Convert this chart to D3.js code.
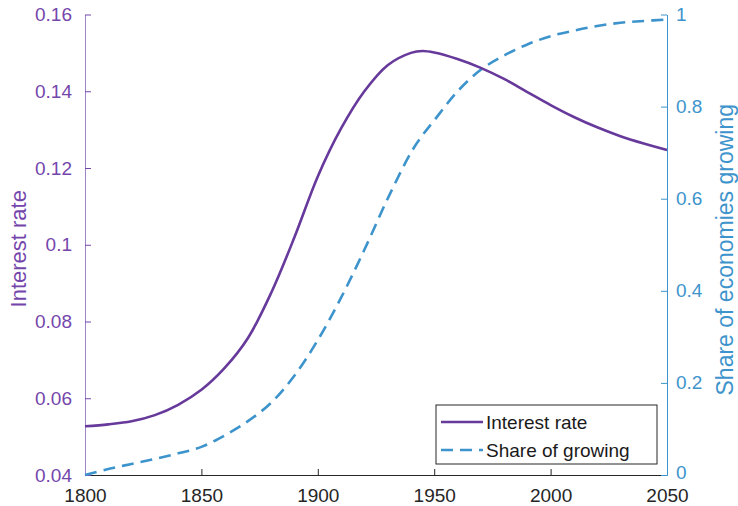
<!DOCTYPE html>
<html>
<head>
<meta charset="utf-8">
<script src="https://cdn.jsdelivr.net/npm/d3@7"></script>
<style>
  html, body { margin: 0; padding: 0; background: #fff; }
  svg { display: block; font-family: "Liberation Sans", Arial, Helvetica, sans-serif; }
</style>
</head>
<body>
<svg id="chart" width="738" height="506"></svg>
<script>
// Years sampled along the horizontal axis
const years = [1800, 1810, 1820, 1830, 1840, 1850, 1860, 1870, 1880, 1890, 1900,
  1910, 1920, 1930, 1940, 1945, 1950, 1960, 1970, 1980, 1990, 2000, 2010,
  2020, 2030, 2040, 2050];

// Interest rate (left axis)
const interestRate = [0.0527, 0.0532, 0.0540, 0.0556, 0.0583, 0.0622, 0.0679,
  0.0757, 0.0875, 0.1020, 0.1178, 0.1303, 0.1400, 0.1468, 0.1500, 0.1505,
  0.1501, 0.1484, 0.1461, 0.1432, 0.1398, 0.1364, 0.1333, 0.1306, 0.1283,
  0.1264, 0.1247];

// Share of economies growing (right axis)
const shareGrowing = [0.000, 0.013, 0.024, 0.035, 0.047, 0.061, 0.086, 0.117,
  0.157, 0.216, 0.293, 0.385, 0.489, 0.600, 0.700, 0.738, 0.770, 0.833,
  0.880, 0.911, 0.935, 0.953, 0.965, 0.975, 0.982, 0.986, 0.989];

// Tick values
const xTicks = [1800, 1850, 1900, 1950, 2000, 2050];
const leftTicks = [0.04, 0.06, 0.08, 0.1, 0.12, 0.14, 0.16];
const rightTicks = [0, 0.2, 0.4, 0.6, 0.8, 1];

const seriesNames = ["Interest rate", "Share of growing"];

const purple = "#66399b";
const purpleText = "#7446ac";
const blue = "#3d94cc";
const dark = "#262626";

const svg = d3.select("#chart");
const m = { left: 85, right: 71, top: 14.5, bottom: 31 };
const W = 738, H = 506;

const x = d3.scaleLinear().domain([1800, 2050]).range([m.left, W - m.right]);
const yL = d3.scaleLinear().domain([0.04, 0.16]).range([H - m.bottom, m.top]);
const yR = d3.scaleLinear().domain([0, 1]).range([H - m.bottom, m.top]);

const fmt = d => String(+d.toFixed(2));

// Bottom axis
const gx = svg.append("g")
  .attr("transform", `translate(0,${H - m.bottom})`)
  .call(d3.axisBottom(x).tickValues(xTicks).tickFormat(d3.format("d"))
    .tickSizeInner(-6).tickSizeOuter(0).tickPadding(14));
gx.select(".domain").attr("stroke", dark);
gx.selectAll(".tick line").attr("stroke", dark);
gx.selectAll(".tick text").attr("fill", dark).attr("font-size", 19);

// Left axis
const gl = svg.append("g")
  .attr("transform", `translate(${m.left},0)`)
  .call(d3.axisLeft(yL).tickValues(leftTicks).tickFormat(fmt)
    .tickSizeInner(-6).tickSizeOuter(0).tickPadding(13));
gl.select(".domain").attr("stroke", "#9d82cc");
gl.selectAll(".tick line").attr("stroke", purpleText);
gl.selectAll(".tick text").attr("fill", purpleText).attr("font-size", 19);

// Right axis
const gr = svg.append("g")
  .attr("transform", `translate(${W - m.right},0)`)
  .call(d3.axisRight(yR).tickValues(rightTicks).tickFormat(fmt)
    .tickSizeInner(-6).tickSizeOuter(0).tickPadding(9));
gr.select(".domain").attr("stroke", blue);
gr.selectAll(".tick line").attr("stroke", blue);
gr.selectAll(".tick text").attr("fill", blue).attr("font-size", 19);
// keep the bottom "0" clear of the year labels below it
gr.selectAll(".tick text").filter(d => d === 0).attr("dy", "0.2em");

// Axis titles
svg.append("text")
  .attr("transform", `translate(26,${(m.top + H - m.bottom) / 2 + 4}) rotate(-90)`)
  .attr("text-anchor", "middle")
  .attr("fill", purpleText)
  .attr("font-size", 22)
  .text("Interest rate");

svg.append("text")
  .attr("transform", `translate(733,${(m.top + H - m.bottom) / 2 + 5}) rotate(-90)`)
  .attr("text-anchor", "middle")
  .attr("fill", blue)
  .attr("font-size", 23)
  .text("Share of economies growing");

// Series lines
const lineL = d3.line().x((d, i) => x(years[i])).y(d => yL(d)).curve(d3.curveCatmullRom.alpha(0.5));
const lineR = d3.line().x((d, i) => x(years[i])).y(d => yR(d)).curve(d3.curveCatmullRom.alpha(0.5));

svg.append("path")
  .datum(shareGrowing)
  .attr("d", lineR)
  .attr("fill", "none")
  .attr("stroke", blue)
  .attr("stroke-width", 2.6)
  .attr("stroke-dasharray", "12,7");

svg.append("path")
  .datum(interestRate)
  .attr("d", lineL)
  .attr("fill", "none")
  .attr("stroke", purple)
  .attr("stroke-width", 2.6);

// Legend
const lg = svg.append("g").attr("transform", "translate(436,405)");
lg.append("rect")
  .attr("width", 221).attr("height", 59)
  .attr("fill", "#fff").attr("stroke", dark).attr("stroke-width", 1);
const rows = [
  { name: seriesNames[0], color: purple, dash: null, y: 17 },
  { name: seriesNames[1], color: blue, dash: "12,7", y: 45 }
];
rows.forEach(r => {
  lg.append("line")
    .attr("x1", 5).attr("x2", 47).attr("y1", r.y).attr("y2", r.y)
    .attr("stroke", r.color).attr("stroke-width", 2.6)
    .attr("stroke-dasharray", r.dash);
  lg.append("text")
    .attr("x", 50).attr("y", r.y).attr("dy", "0.36em")
    .attr("fill", "#1a1a1a").attr("font-size", 19)
    .text(r.name);
});
</script>
</body>
</html>
